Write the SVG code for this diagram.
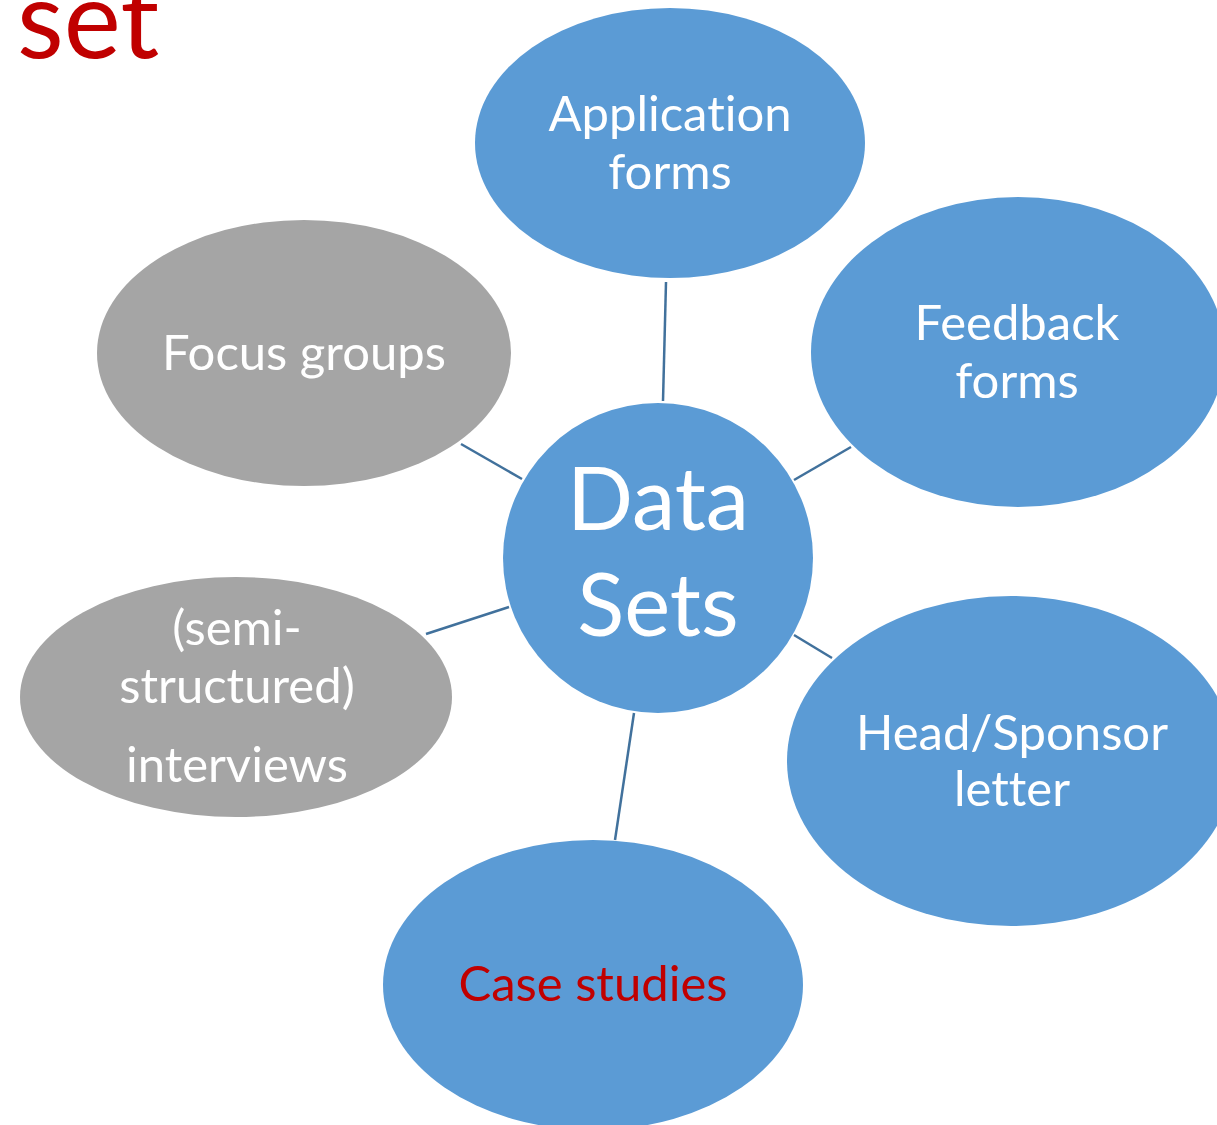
<svg xmlns="http://www.w3.org/2000/svg" width="1217" height="1125" viewBox="0 0 1217 1125">
  <style>
    .blue { fill: #5B9BD5; }
    .grey { fill: #A5A5A5; }
    text { font-family: Lato, "Open Sans", "Liberation Sans", sans-serif; font-variant-ligatures: none; }
    .lbl { fill: #FFFFFF; text-anchor: middle; font-size: 49px; }
    .big { font-size: 87px; }
    .red { fill: #C00000; }
    .link { stroke: #41719C; stroke-width: 2.5; fill: none; }
  </style>
  <rect width="1217" height="1125" fill="#FFFFFF"/>
  <text x="17" y="58" font-size="108" fill="#C00000">set</text>

  <g id="connectors">
    <line class="link" x1="666" y1="282" x2="663" y2="401"/>
    <line class="link" x1="851" y1="447" x2="794" y2="480"/>
    <line class="link" x1="461" y1="444" x2="522" y2="479"/>
    <line class="link" x1="426" y1="634" x2="509" y2="607"/>
    <line class="link" x1="794" y1="635" x2="832" y2="658"/>
    <line class="link" x1="634" y1="713" x2="615" y2="840"/>
  </g>

  <g id="application-forms">
    <ellipse class="blue" cx="670" cy="143" rx="195" ry="135"/>
    <text class="lbl" x="670" y="131">Application</text>
    <text class="lbl" x="670" y="189">forms</text>
  </g>

  <g id="feedback-forms">
    <ellipse class="blue" cx="1018" cy="352" rx="207" ry="155"/>
    <text class="lbl" x="1017" y="340">Feedback</text>
    <text class="lbl" x="1017" y="398">forms</text>
  </g>

  <g id="focus-groups">
    <ellipse class="grey" cx="304" cy="353" rx="207" ry="133"/>
    <text class="lbl" x="304" y="370">Focus groups</text>
  </g>

  <g id="interviews">
    <ellipse class="grey" cx="236" cy="697" rx="216" ry="120"/>
    <text class="lbl" x="237" y="645">(semi-</text>
    <text class="lbl" x="237" y="703">structured)</text>
    <text class="lbl" x="237" y="782">interviews</text>
  </g>

  <g id="head-sponsor-letter">
    <ellipse class="blue" cx="1011" cy="761" rx="224" ry="165"/>
    <text class="lbl" x="1012" y="750">Head/Sponsor</text>
    <text class="lbl" x="1012" y="806">letter</text>
  </g>

  <g id="case-studies">
    <ellipse class="blue" cx="593" cy="985" rx="210" ry="145"/>
    <text class="lbl red" x="593" y="1001">Case studies</text>
  </g>

  <g id="data-sets">
    <circle class="blue" cx="658" cy="558" r="155"/>
    <text class="lbl big" x="658" y="530">Data</text>
    <text class="lbl big" x="658" y="636">Sets</text>
  </g>
</svg>
